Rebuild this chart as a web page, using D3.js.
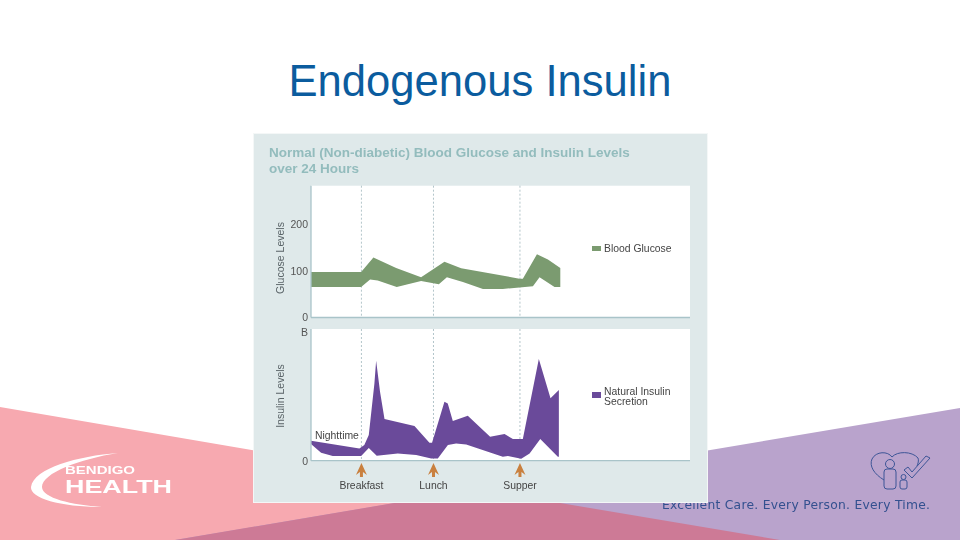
<!DOCTYPE html>
<html>
<head>
<meta charset="utf-8">
<script src="https://cdn.jsdelivr.net/npm/d3@7"></script>
<style>
    html, body { margin: 0; padding: 0; background: #fff; }
    svg { display: block; font-family: "Liberation Sans", Arial, sans-serif; }
    .soft { filter: blur(0.5px); }
</style>
</head>
<body>
<div id="svg"></div>
<script>
// hours of the day
let mealNames = ["Breakfast", "Lunch", "Supper"];
let mealHours = [7, 12, 18];

let glucoseTopHours = [3.5, 6.98, 7.83, 9.41, 11.14, 12.76, 13.92, 17.97, 18.2, 19.18, 19.94, 20.8];
let glucoseTopValues = [97, 97, 128, 106, 86, 119, 105, 83, 83, 135, 124, 106];
let glucoseBottomHours = [3.5, 6.98, 7.6, 8.13, 9.45, 11.14, 12.37, 12.93, 14.04, 15.43, 16.81, 18.9, 19.36, 20.4, 20.8];
let glucoseBottomValues = [65, 65, 81, 79, 65, 78, 71, 86, 76, 61, 61, 67, 86, 65, 65];

let insulinTopHours = [3.5, 6.86, 7.2, 7.51, 7.9, 8.02, 8.29, 8.6, 10.68, 11.72, 11.9, 12.76, 12.99, 13.34, 14.38, 15.93, 16.93, 17.51, 18.2, 19.31, 20.12, 20.7];
let insulinTopValues = [1.24, 0.76, 0.97, 1.59, 4.79, 6.2, 4.28, 2.58, 2.15, 1.12, 1.12, 3.66, 3.55, 2.46, 2.79, 1.49, 1.65, 1.34, 1.34, 6.3, 3.88, 4.38];
let insulinBottomHours = [3.5, 4.2, 5.01, 6.98, 7.51, 8.06, 9.52, 10.8, 11.84, 12.3, 13.0, 13.57, 14.27, 16.81, 17.16, 18.09, 18.67, 19.41, 20.63, 20.7];
let insulinBottomValues = [1.03, 0.5, 0.29, 0.29, 0.79, 0.31, 0.45, 0.35, 0.14, 0.14, 0.97, 1.07, 1.01, 0.25, 0.29, 0.12, 0.45, 1.34, 0.25, 0.25];

let glucoseTicks = [0, 100, 200];
let glucoseTickLabels = ["0", "100", "200"];
let insulinTicks = [0, 8];
let insulinTickLabels = ["0", "B"];

let width = 960, height = 540;

let svg = d3.select("#svg").append("svg")
    .attr("width", width)
    .attr("height", height);

// slide background
svg.append("rect").attr("width", width).attr("height", height).attr("fill", "#fff");
svg.append("path").attr("d", "M0,407L780,540L0,540Z").attr("fill", "#f7a9b0");
svg.append("path").attr("d", "M960,408L175,540L960,540Z").attr("fill", "#b9a3cc");
svg.append("path").attr("d", "M477,489L780,540L175,540Z").attr("fill", "#cd7a96");

svg.append("text")
    .attr("x", 480)
    .attr("y", 96)
    .attr("text-anchor", "middle")
    .style("font-size", "43.6px")
    .style("fill", "#0b5c9e")
    .text("Endogenous Insulin");

// logo left
let logo = svg.append("g").attr("class", "soft");
logo.append("path")
    .attr("d", "M118,453C78,456 34,468 31,487C30,498 60,507 102,507C72,505 42,498 42,487C42,473 80,459 118,453Z")
    .attr("fill", "#fff");
logo.append("text")
    .attr("x", 65).attr("y", 474)
    .attr("textLength", 70)
    .attr("lengthAdjust", "spacingAndGlyphs")
    .style("font-size", "10px").style("font-weight", "bold").style("fill", "#fff")
    .text("BENDIGO");
logo.append("text")
    .attr("x", 65).attr("y", 492.5)
    .attr("textLength", 107)
    .attr("lengthAdjust", "spacingAndGlyphs")
    .style("font-size", "19px").style("font-weight", "bold").style("fill", "#fff")
    .text("HEALTH");

// tag line and icon right, the panel covers the start of it
let tag = svg.append("g").attr("class", "soft");
tag.append("text")
    .attr("x", 662).attr("y", 508.5)
    .attr("textLength", 268)
    .attr("lengthAdjust", "spacing")
    .style("font-family", "'DejaVu Sans'")
    .style("font-size", "12.3px").style("fill", "#33508f")
    .text("Excellent Care. Every Person. Every Time.");
let icon = tag.append("g").attr("fill", "none").attr("stroke", "#3d5596").attr("stroke-width", 1);
icon.append("path").attr("d", "M884,480C874,474 869,466 872,459C876,451 888,451 892,457C897,451 912,451 918,458C919,460 918,464 917,466");
icon.append("circle").attr("cx", 890).attr("cy", 464).attr("r", 4.5);
icon.append("rect").attr("x", 884).attr("y", 469).attr("width", 12).attr("height", 20).attr("rx", 3);
icon.append("circle").attr("cx", 903.5).attr("cy", 477).attr("r", 2.5);
icon.append("rect").attr("x", 900).attr("y", 480).attr("width", 7).attr("height", 9).attr("rx", 2);
icon.append("path").attr("d", "M904,470L912,478L930,458L926,456L912,472L908,467Z");

// picture of the chart, in a panel
svg.append("rect")
    .attr("x", 253.5).attr("y", 133.5)
    .attr("width", 454).attr("height", 369)
    .attr("fill", "#dfe9ea")
    .attr("stroke", "#f4f7f7");

let chart = svg.append("g").attr("class", "soft");

chart.append("text")
    .attr("x", 269).attr("y", 157)
    .style("font-size", "13.5px").style("font-weight", "bold").style("fill", "#93bcbd")
    .text("Normal (Non-diabetic) Blood Glucose and Insulin Levels");
chart.append("text")
    .attr("x", 269).attr("y", 173)
    .style("font-size", "13.5px").style("font-weight", "bold").style("fill", "#93bcbd")
    .text("over 24 Hours");

let x = d3.scaleLinear().domain([3.5, 29.8]).range([311, 690]);
let yGlucose = d3.scaleLinear().domain([0, 100, 200]).range([317.5, 270.7, 224]);
let yInsulin = d3.scaleLinear().domain([0, 8]).range([460.7, 331.7]);

let zip = (hours, values) => hours.map((h, i) => [h, values[i]]);

function addPlot(y, top, upper, lower, ticks, tickLabels, fill, axisLabel, labelY) {
    chart.append("rect")
        .attr("x", x.range()[0]).attr("width", x.range()[1] - x.range()[0])
        .attr("y", top).attr("height", y(0) - top)
        .attr("fill", "#fff");

    // dotted meal lines
    chart.selectAll(null)
        .data(mealHours)
        .enter().append("line")
        .attr("x1", d => x(d)).attr("x2", d => x(d))
        .attr("y1", top).attr("y2", y(0))
        .attr("stroke", "#9fb6bd")
        .attr("stroke-width", 0.8)
        .style("stroke-dasharray", "2,2");

    // band: upper edge forward, lower edge back
    let line = d3.line().x(d => x(d[0])).y(d => y(d[1]));
    chart.append("path")
        .attr("d", line(upper.concat(lower.slice().reverse())) + "Z")
        .attr("fill", fill);

    chart.append("line")
        .attr("x1", x.range()[0]).attr("x2", x.range()[1])
        .attr("y1", y(0)).attr("y2", y(0))
        .attr("stroke", "#a9c4c9").attr("stroke-width", 1.3);
    chart.append("line")
        .attr("x1", x.range()[0]).attr("x2", x.range()[0])
        .attr("y1", top).attr("y2", y(0))
        .attr("stroke", "#a9c4c9").attr("stroke-width", 1.3);

    let axis = d3.axisLeft(y)
        .tickValues(ticks)
        .tickSize(0)
        .tickPadding(3)
        .tickFormat((d, i) => tickLabels[i]);
    let g = chart.append("g")
        .attr("transform", "translate(" + x.range()[0] + ",0)")
        .call(axis);
    g.select(".domain").remove();
    g.selectAll("text")
        .style("font-family", "'Liberation Sans'")
        .style("font-size", "10.5px")
        .style("fill", "#555");

    chart.append("text")
        .attr("transform", "translate(283.5," + labelY + ") rotate(-90)")
        .attr("text-anchor", "middle")
        .style("font-size", "10.5px")
        .style("fill", "#5a6468")
        .text(axisLabel);
}

addPlot(yGlucose, 185.7, zip(glucoseTopHours, glucoseTopValues), zip(glucoseBottomHours, glucoseBottomValues),
    glucoseTicks, glucoseTickLabels, "#7b9b70", "Glucose Levels", 258);
addPlot(yInsulin, 329, zip(insulinTopHours, insulinTopValues), zip(insulinBottomHours, insulinBottomValues),
    insulinTicks, insulinTickLabels, "#6a4a9a", "Insulin Levels", 396);

// legends
chart.append("rect").attr("x", 592).attr("y", 246).attr("width", 9).attr("height", 5).attr("fill", "#7b9b70");
chart.append("text").attr("x", 604).attr("y", 252)
    .style("font-size", "10.4px").style("fill", "#444").text("Blood Glucose");
chart.append("rect").attr("x", 592).attr("y", 392).attr("width", 9).attr("height", 6).attr("fill", "#6a4a9a");
chart.append("text").attr("x", 604).attr("y", 395)
    .style("font-size", "10.4px").style("fill", "#444").text("Natural Insulin");
chart.append("text").attr("x", 604).attr("y", 405)
    .style("font-size", "10.4px").style("fill", "#444").text("Secretion");

chart.append("text").attr("x", 315).attr("y", 439)
    .style("font-size", "10.4px").style("fill", "#444").text("Nighttime");

// meal arrows and names
let meals = chart.selectAll(null)
    .data(mealNames)
    .enter().append("g")
    .attr("transform", (d, i) => "translate(" + x(mealHours[i]) + ",0)");
meals.append("path")
    .attr("d", "M0,463L5.5,475L1.5,472L1.5,477L-1.5,477L-1.5,472L-5.5,475Z")
    .attr("fill", "#c9803f");
meals.append("text")
    .attr("y", 489)
    .attr("text-anchor", "middle")
    .style("font-size", "10.4px")
    .style("fill", "#444")
    .text(d => d);
</script>
</body>
</html>
